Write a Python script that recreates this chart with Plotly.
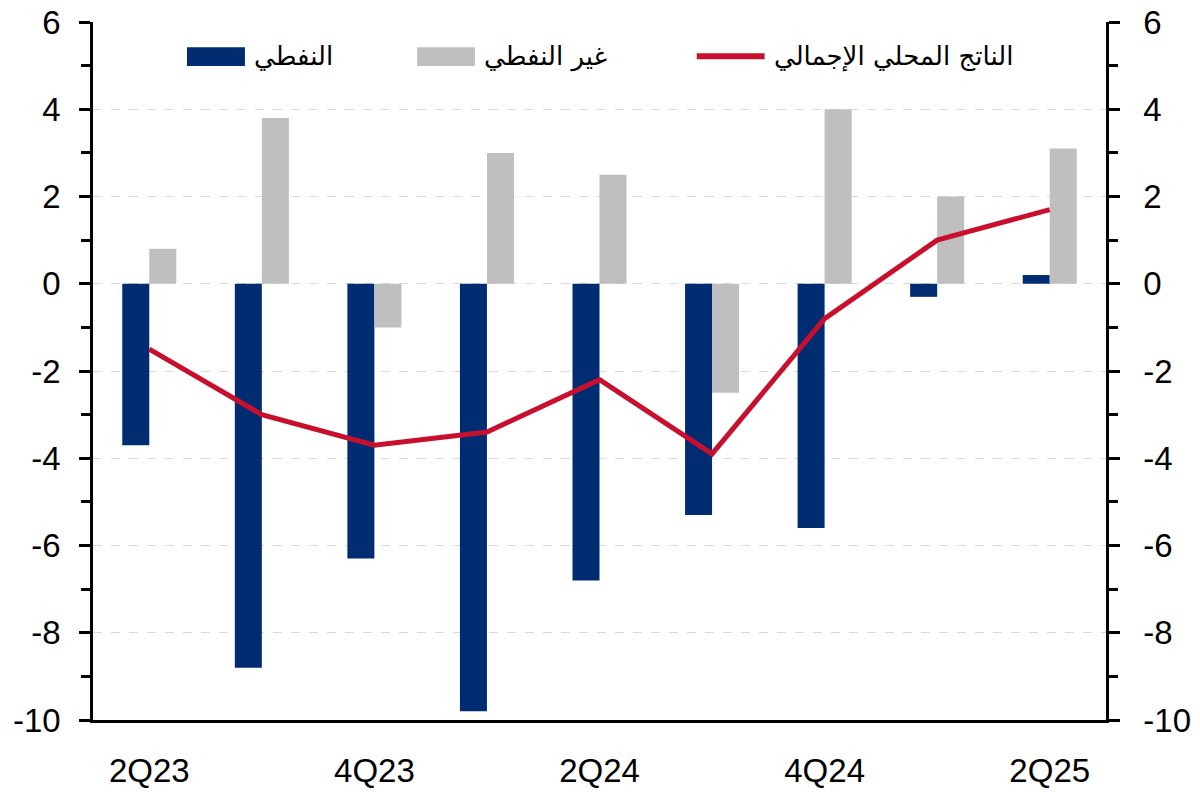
import plotly.graph_objects as go

quarters = ["2Q23", "3Q23", "4Q23", "1Q24", "2Q24", "3Q24", "4Q24", "1Q25", "2Q25"]
oil = [-3.7, -8.8, -6.3, -9.8, -6.8, -5.3, -5.6, -0.3, 0.2]
non_oil = [0.8, 3.8, -1.0, 3.0, 2.5, -2.5, 4.0, 2.0, 3.1]
gdp = [-1.5, -3.0, -3.7, -3.4, -2.2, -3.9, -0.8, 1.0, 1.7]
x_tick_labels = ["2Q23", "4Q23", "2Q24", "4Q24", "2Q25"]
y_tick_vals = [-10, -8, -6, -4, -2, 0, 2, 4, 6]
y_tick_text = ["-10", "-8", "-6", "-4", "-2", "0", "2", "4", "6"]
name_oil = "النفطي"
name_non_oil = "غير النفطي"
name_gdp = "الناتج المحلي الإجمالي"

NAVY = "#002D72"
GRAY = "#BFBFBF"
RED = "#C8102E"
FONT = "Liberation Sans, Arial, DejaVu Sans, sans-serif"
AR_FONT = "DejaVu Sans, sans-serif"

fig = go.Figure()
fig.add_trace(go.Bar(x=quarters, y=oil, marker=dict(color=NAVY, line=dict(width=0)),
                     name=name_oil, showlegend=False))
fig.add_trace(go.Bar(x=quarters, y=non_oil, marker=dict(color=GRAY, line=dict(width=0)),
                     name=name_non_oil, showlegend=False))
fig.add_trace(go.Scatter(x=quarters, y=gdp, mode="lines", line=dict(color=RED, width=5),
                         name=name_gdp, yaxis="y2", showlegend=False))

yax = dict(range=[-10, 6], tickmode="array", tickvals=y_tick_vals, ticktext=y_tick_text,
           ticks="outside", ticklen=11, tickwidth=2.5,
           tickcolor="black", showline=True, linecolor="black", linewidth=2.5,
           zeroline=False, tickfont=dict(family=FONT, size=33, color="black"),
           minor=dict(dtick=1, tick0=0, ticks="outside", ticklen=9, tickwidth=2.5,
                      tickcolor="black", showgrid=False),
           automargin=False)

# legend keys (drawn manually so the swatches match the wide rectangles of the original)
legend_items = [
    (name_oil, "rect", NAVY, 0.0928, 0.150),
    (name_non_oil, "rect", GRAY, 0.320, 0.377),
    (name_gdp, "line", RED, 0.596, 0.663),
]
shapes = []
annotations = []
for label, kind, color, x0, x1 in legend_items:
    if kind == "rect":
        shapes.append(dict(type="rect", xref="paper", yref="paper", x0=x0, x1=x1,
                           y0=0.937, y1=0.964, fillcolor=color, line=dict(width=0)))
    else:
        shapes.append(dict(type="line", xref="paper", yref="paper", x0=x0, x1=x1,
                           y0=0.951, y1=0.951, line=dict(color=color, width=6)))
    annotations.append(dict(text=label, xref="paper", yref="paper", x=x1 + 0.007, y=0.951,
                            xanchor="left", yanchor="middle", showarrow=False,
                            font=dict(family=AR_FONT, size=26, color="black")))

fig.update_layout(
    width=1200, height=792,
    margin=dict(l=93, r=94, t=22, b=72),
    paper_bgcolor="white", plot_bgcolor="white",
    barmode="group", bargap=0.52, bargroupgap=0,
    showlegend=False,
    xaxis=dict(type="category", range=[-0.5, 8.5], tickmode="array",
               tickvals=x_tick_labels, ticktext=x_tick_labels, ticks="",
               showline=True, linecolor="black", linewidth=2.5, showgrid=False,
               tickfont=dict(family=FONT, size=33, color="black"), ticklabelstandoff=20,
               automargin=False),
    xaxis2=dict(overlaying="x", anchor="free", position=0.625, type="linear",
                range=[-0.5, 8.5], tickvals=[0.5, 1.5, 2.5, 3.5, 4.5, 5.5, 6.5, 7.5],
                ticks="outside", ticklen=10, tickwidth=2.5, tickcolor="black",
                showticklabels=False, showline=True, linecolor="black", linewidth=2.5,
                showgrid=False, zeroline=False, automargin=False),
    yaxis=dict(**yax, showgrid=True, gridcolor="#D9D9D9", gridwidth=1, griddash="dash",
               ticklabelstandoff=12),
    yaxis2=dict(**yax, overlaying="y", side="right", showgrid=False, ticklabelstandoff=17),
    shapes=shapes,
    annotations=annotations,
)

fig.write_html("out.html")
